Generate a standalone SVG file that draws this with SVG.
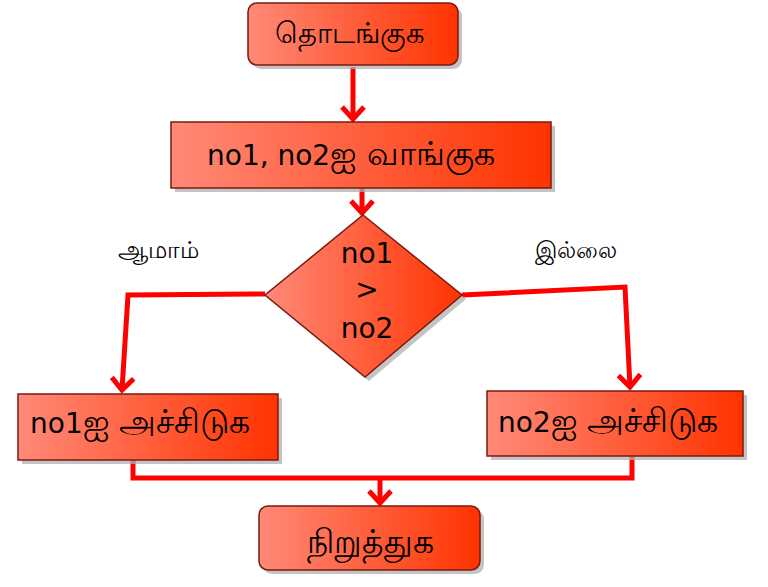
<svg xmlns="http://www.w3.org/2000/svg" width="768" height="587" viewBox="0 0 768 587">
<defs>
<linearGradient id="g" x1="0" y1="0" x2="1" y2="0">
<stop offset="0" stop-color="#ff8a78"/>
<stop offset="1" stop-color="#ff3300"/>
</linearGradient>
<marker id="ah" markerUnits="userSpaceOnUse" markerWidth="30" markerHeight="30" viewBox="-16 -15 20 30" refX="0" refY="0" orient="auto">
<path d="M-12,-11 L0,0 L-12,11" fill="none" stroke="#ff0000" stroke-width="5" stroke-linejoin="miter"/>
</marker>
</defs>
<style>
.shape{fill:url(#g);stroke:#7a1a10;stroke-width:1.5}
.shadow{fill:#b0b0b0;opacity:0.75}
.t{font-family:"DejaVu Sans","Noto Sans",sans-serif;fill:#000}
.ta{font-size:33px}
.c{fill:none;stroke:#ff0000;stroke-width:5;stroke-linejoin:miter}
</style>
<g id="connectors">
<path class="c" d="M353,67 L353,119" marker-end="url(#ah)"/>
<path class="c" d="M362,188 L362,213" marker-end="url(#ah)"/>
<path class="c" d="M265,294 L128,295 L122,390" marker-end="url(#ah)"/>
<path class="c" d="M462,295 L625,287 L630,387" marker-end="url(#ah)"/>
<path class="c" d="M133,460 L133,478 L632,478 L632,456"/>
<path class="c" d="M380,478 L380,503" marker-end="url(#ah)"/>
</g>
<g id="start">
<rect class="shadow" x="252" y="7" width="210" height="62" rx="9"/>
<rect class="shape" x="248" y="3" width="210" height="62" rx="9"/>
<text class="t" x="350" y="43" font-size="29" text-anchor="middle">தொடங்குக</text>
</g>
<g id="input">
<rect class="shadow" x="175" y="126" width="380" height="66"/>
<rect class="shape" x="171" y="122" width="380" height="66"/>
<text class="t" x="207" y="165" font-size="28">no1, no2<tspan class="ta">ஐ வாங்குக</tspan></text>
</g>
<g id="decision">
<polygon class="shadow" points="367,219 466,299 369,381 269,299"/>
<polygon class="shape" points="363,215 462,295 365,377 265,295"/>
<text class="t" x="367" y="263" font-size="28" text-anchor="middle">no1</text>
<text class="t" x="367" y="299" font-size="28" text-anchor="middle">&gt;</text>
<text class="t" x="367" y="338" font-size="28" text-anchor="middle">no2</text>
</g>
<g id="yes-label">
<text class="t" x="158" y="258" font-size="24" text-anchor="middle">ஆமாம்</text>
</g>
<g id="no-label">
<text class="t" x="576" y="258" font-size="23" text-anchor="middle">இல்லை</text>
</g>
<g id="print1">
<rect class="shadow" x="22" y="398" width="260" height="66"/>
<rect class="shape" x="18" y="394" width="260" height="66"/>
<text class="t" x="30" y="433" font-size="28">no1<tspan class="ta">ஐ அச்சிடுக</tspan></text>
</g>
<g id="print2">
<rect class="shadow" x="491" y="395" width="256" height="65"/>
<rect class="shape" x="487" y="391" width="256" height="65"/>
<text class="t" x="498" y="432" font-size="28">no2<tspan class="ta">ஐ அச்சிடுக</tspan></text>
</g>
<g id="stop">
<rect class="shadow" x="263" y="510" width="221" height="64" rx="9"/>
<rect class="shape" x="259" y="506" width="221" height="64" rx="9"/>
<text class="t" x="370" y="553" font-size="33" text-anchor="middle">நிறுத்துக</text>
</g>
</svg>
